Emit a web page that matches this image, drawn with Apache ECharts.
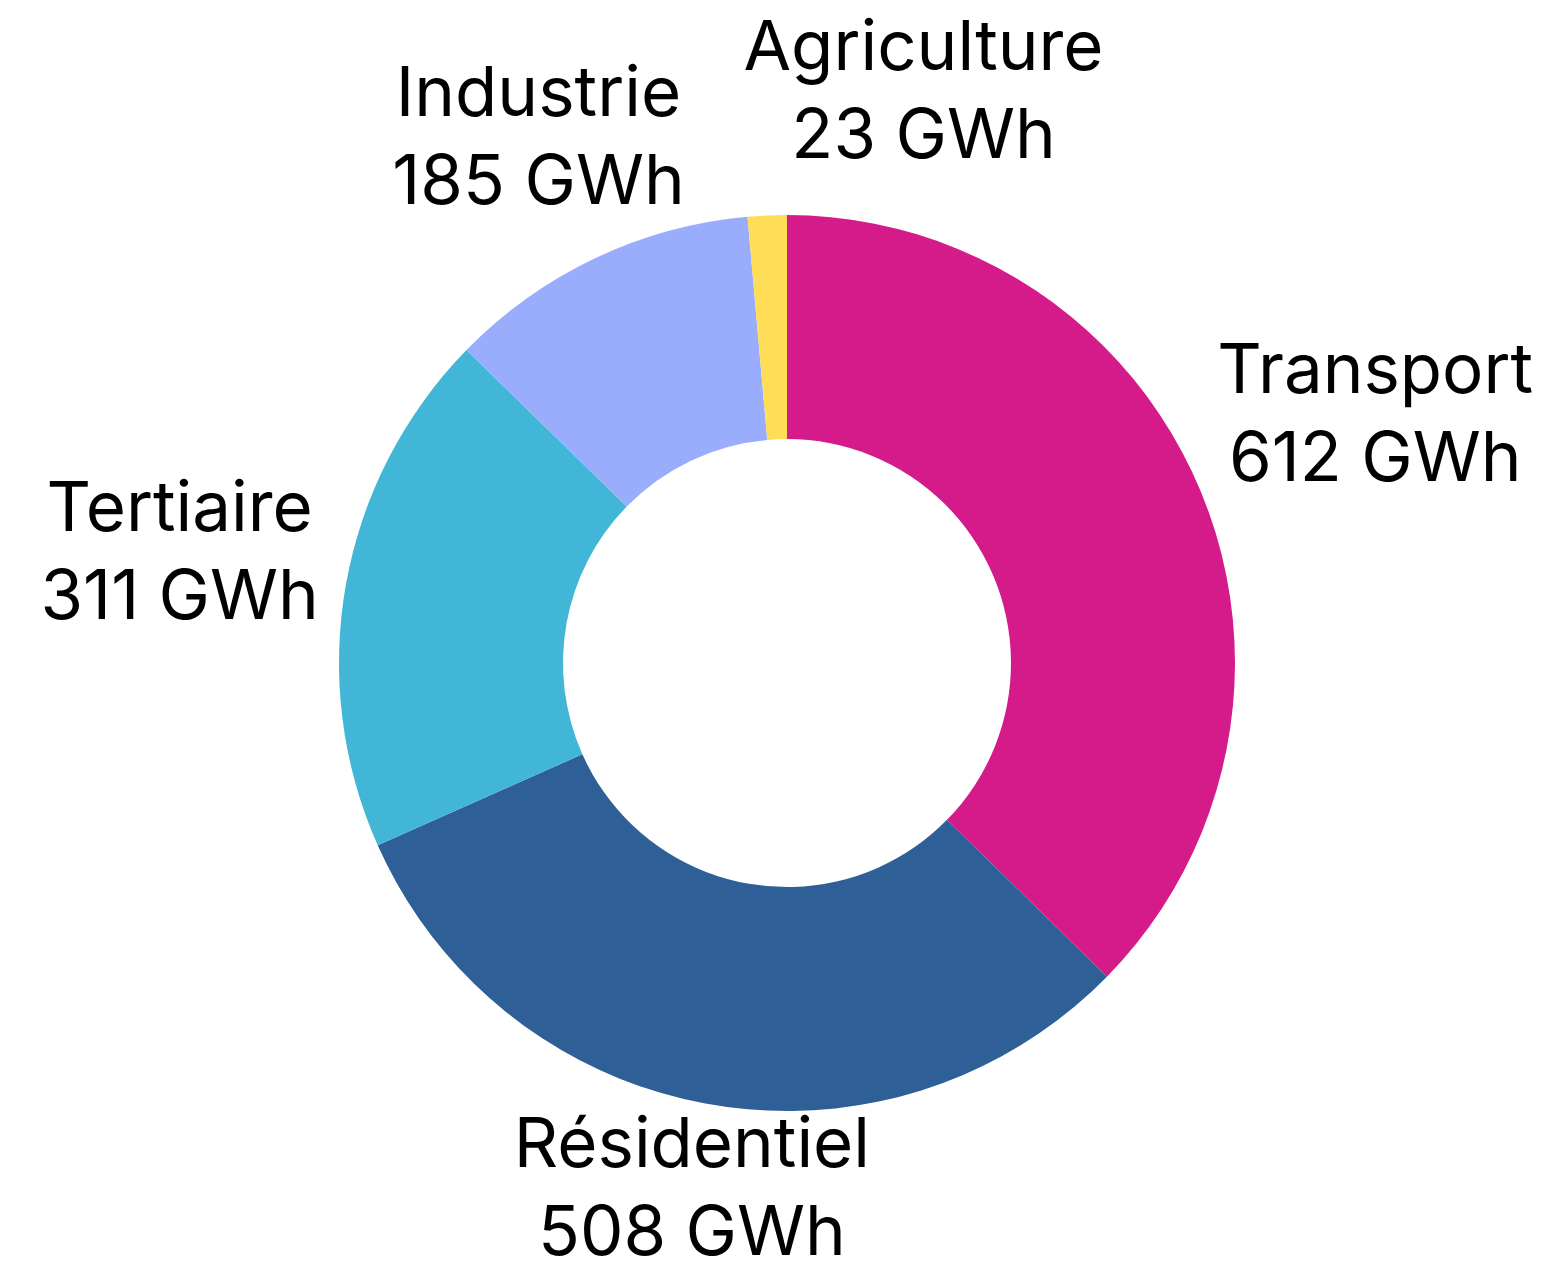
<!DOCTYPE html>
<html lang="fr">
<head>
    <meta charset="UTF-8">
    <title>Consommation par secteur</title>
    <script src="https://cdn.jsdelivr.net/npm/echarts@6/dist/echarts.min.js"></script>
    <style>
        html, body { margin: 0; padding: 0; background: #fff; }
        #chart { width: 1541px; height: 1263px; }
    </style>
</head>
<body>
    <div id="chart"></div>
    <script>
        // données
        const sectors = ['Transport', 'Résidentiel', 'Tertiaire', 'Industrie', 'Agriculture'];
        const values = [612, 508, 311, 185, 23];
        const colors = ['#d41b89', '#2e5f97', '#42b6d6', '#9aadfd', '#ffdd57'];

        // réglages des étiquettes (distance au centre, décalage angulaire en degrés)
        const labelDist = [638, 536, 617, 580, 586];
        const labelShift = [0, 0, 0, 0, 16.0];

        const total = values.reduce((a, b) => a + b, 0);
        const midAngles = [];
        let acc = 0;
        values.forEach(v => {
            midAngles.push((acc + v / 2) / total * 360);
            acc += v;
        });

        const chartDom = document.getElementById('chart');
        const myChart = echarts.init(chartDom);
        const cxRatio = 0.5107, cyRatio = 0.525;

        const option = {
            animation: false,
            series: [{
                type: 'pie',
                center: [(cxRatio * 100) + '%', (cyRatio * 100) + '%'],
                radius: [224, 448],
                startAngle: 90,
                clockwise: true,
                avoidLabelOverlap: false,
                label: {
                    show: true,
                    position: 'outside',
                    formatter: '{b}\n{c} GWh',
                    fontFamily: 'Inter',
                    fontSize: 69,
                    lineHeight: 88,
                    color: '#000'
                },
                labelLine: { show: false },
                labelLayout: function (params) {
                    const i = params.dataIndex;
                    const a = (midAngles[i] + labelShift[i]) * Math.PI / 180;
                    const cx = myChart.getWidth() * cxRatio;
                    const cy = myChart.getHeight() * cyRatio;
                    return {
                        x: cx + Math.sin(a) * labelDist[i],
                        y: cy - Math.cos(a) * labelDist[i],
                        align: 'center',
                        verticalAlign: 'middle'
                    };
                },
                data: sectors.map((name, i) => ({
                    name: name,
                    value: values[i],
                    itemStyle: { color: colors[i] }
                }))
            }]
        };

        myChart.setOption(option);
    </script>
</body>
</html>
